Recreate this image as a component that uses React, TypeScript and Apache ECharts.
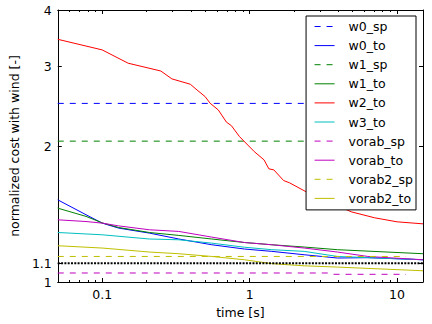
import React, { useEffect, useRef } from "react";
import * as echarts from "echarts";

const FONT = "DejaVu Sans";
const X_MIN = 0.05;
const X_MAX = 15;
const Y_MIN = 1;
const Y_MAX = 4;

const xMajorTicks = [0.1, 1, 10];
const xMinorTicks = [
  0.05, 0.06, 0.07, 0.08, 0.09,
  0.2, 0.3, 0.4, 0.5, 0.6, 0.7, 0.8, 0.9,
  2, 3, 4, 5, 6, 7, 8, 9,
];
const yTicks = [1, 1.1, 2, 3, 4];

// w0_sp (blue dashed)
const w0_sp_t = [0.05, 11.5];
const w0_sp_v = [2.485, 2.485];
// w0_to (blue solid)
const w0_to_t = [0.05, 0.0777, 0.1, 0.1295, 0.209, 0.331, 0.554, 0.922, 1.415, 2.345, 3.945, 6.34, 15];
const w0_to_v = [1.52, 1.409, 1.35, 1.316, 1.283, 1.245, 1.209, 1.183, 1.169, 1.149, 1.13, 1.132, 1.12];
// w1_sp (green dashed)
const w1_sp_t = [0.05, 11.5];
const w1_sp_v = [2.05, 2.05];
// w1_to (green solid)
const w1_to_t = [0.05, 0.0777, 0.1, 0.1295, 0.209, 0.331, 0.554, 0.922, 1.415, 2.345, 3.945, 15];
const w1_to_v = [1.457, 1.397, 1.352, 1.32, 1.287, 1.268, 1.245, 1.223, 1.209, 1.195, 1.179, 1.155];
// w2_to (red solid)
const w2_to_t = [0.05, 0.1, 0.15, 0.25, 0.297, 0.396, 0.44, 0.499, 0.54, 0.613, 0.697, 0.752, 0.854, 1.075, 1.252, 1.352, 1.459, 1.701, 1.864, 2.417, 4.887, 7.056, 10, 15];
const w2_to_v = [3.445, 3.264, 3.05, 2.931, 2.816, 2.74, 2.661, 2.573, 2.487, 2.404, 2.258, 2.219, 2.098, 1.944, 1.864, 1.78, 1.771, 1.677, 1.658, 1.584, 1.43, 1.387, 1.359, 1.345];
// w3_to (cyan solid)
const w3_to_t = [0.05, 0.1, 0.209, 0.331, 0.554, 0.922, 1.415, 2.345, 3.945, 15];
const w3_to_v = [1.287, 1.272, 1.245, 1.24, 1.219, 1.194, 1.179, 1.169, 1.139, 1.12];
// vorab_sp (magenta dashed)
const vorab_sp_t = [0.05, 3.4, 3.6, 11.5];
const vorab_sp_v = [1.047, 1.047, 1.04, 1.04];
// vorab_to (magenta solid)
const vorab_to_t = [0.05, 0.0777, 0.1, 0.1295, 0.209, 0.331, 0.554, 0.922, 1.415, 2.345, 3.945, 6.34, 15];
const vorab_to_v = [1.373, 1.361, 1.35, 1.331, 1.305, 1.294, 1.257, 1.223, 1.209, 1.189, 1.165, 1.139, 1.12];
// vorab2_sp (yellow dashed)
const vorab2_sp_t = [0.05, 11.5];
const vorab2_sp_v = [1.139, 1.139];
// vorab2_to (yellow solid)
const vorab2_to_t = [0.05, 0.1, 0.185, 0.209, 0.331, 0.554, 0.922, 1.415, 2.345, 3.945, 15];
const vorab2_to_v = [1.203, 1.189, 1.169, 1.165, 1.155, 1.139, 1.12, 1.098, 1.086, 1.079, 1.059];
// reference level (black dotted)
const ref_t = [0.05, 15];
const ref_v = [1.1, 1.1];

const seriesDefs = [
  { name: "w0_sp", t: w0_sp_t, v: w0_sp_v, color: "#0000ff", dash: true },
  { name: "w0_to", t: w0_to_t, v: w0_to_v, color: "#0000ff", dash: false },
  { name: "w1_sp", t: w1_sp_t, v: w1_sp_v, color: "#008000", dash: true },
  { name: "w1_to", t: w1_to_t, v: w1_to_v, color: "#008000", dash: false },
  { name: "w2_to", t: w2_to_t, v: w2_to_v, color: "#ff0000", dash: false },
  { name: "w3_to", t: w3_to_t, v: w3_to_v, color: "#00bfbf", dash: false },
  { name: "vorab_sp", t: vorab_sp_t, v: vorab_sp_v, color: "#bf00bf", dash: true },
  { name: "vorab_to", t: vorab_to_t, v: vorab_to_v, color: "#bf00bf", dash: false },
  { name: "vorab2_sp", t: vorab2_sp_t, v: vorab2_sp_v, color: "#bfbf00", dash: true },
  { name: "vorab2_to", t: vorab2_to_t, v: vorab2_to_v, color: "#bfbf00", dash: false },
];

const fmt = (v: number) => String(Number(Number(v).toPrecision(3)));

export default function App() {
  const ref = useRef<HTMLDivElement>(null);
  useEffect(() => {
    if (!ref.current) return;
    const chart = echarts.init(ref.current, null, { renderer: "svg" });
    const textBase = { fontFamily: FONT, fontSize: 12.5, color: "#000" };
    const xBase = (position: string, ticks: number[], len: number, showLine: boolean) => ({
      type: "log",
      logBase: 10,
      min: X_MIN,
      max: X_MAX,
      position,
      axisLine: { show: showLine, onZero: false, lineStyle: { color: "#000", width: 1 } },
      splitLine: { show: false },
      minorTick: { show: false },
      axisTick: { show: true, inside: true, length: len, customValues: ticks, lineStyle: { color: "#000", width: 1 } },
      axisLabel: { show: false },
    });
    const yBase = (position: string) => ({
      type: "log",
      logBase: 10,
      min: Y_MIN,
      max: Y_MAX,
      position,
      axisLine: { show: true, onZero: false, lineStyle: { color: "#000", width: 1 } },
      splitLine: { show: false },
      axisTick: { show: true, inside: true, length: 4, customValues: yTicks, lineStyle: { color: "#000", width: 1 } },
      axisLabel: { show: false },
    });
    const series: any[] = seriesDefs.map((s) => ({
      name: s.name,
      type: "line",
      symbol: "none",
      showSymbol: false,
      silent: true,
      xAxisIndex: 0,
      yAxisIndex: 0,
      data: s.t.map((t, i) => [t, s.v[i]]),
      itemStyle: { color: s.color },
      lineStyle: { color: s.color, width: 1, type: s.dash ? [6, 6] : "solid" },
    }));
    series.push({
      name: "ref",
      type: "line",
      symbol: "none",
      showSymbol: false,
      silent: true,
      xAxisIndex: 0,
      yAxisIndex: 0,
      data: ref_t.map((t, i) => [t, ref_v[i]]),
      itemStyle: { color: "#000" },
      lineStyle: { color: "#000", width: 2, type: [2, 1.3] },
    });
    chart.setOption({
      animation: false,
      backgroundColor: "#fff",
      textStyle: { fontFamily: FONT },
      grid: { left: 50, right: 9, top: 10, bottom: 42, containLabel: false },
      legend: {
        data: seriesDefs.map((s) => s.name),
        orient: "vertical",
        right: 16,
        top: 16,
        itemWidth: 20,
        itemHeight: 14,
        itemGap: 6.1,
        padding: [4, 3, 5, 8],
        borderColor: "#000",
        borderWidth: 1,
        borderRadius: 0,
        backgroundColor: "#fff",
        selectedMode: false,
        itemStyle: { opacity: 0 },
        lineStyle: { width: 1 },
        textStyle: { ...textBase, padding: [0, 0, 0, 9] },
      },
      xAxis: [
        {
          ...xBase("bottom", xMajorTicks, 4, true),
          axisLabel: { show: true, customValues: xMajorTicks, formatter: (v: number) => fmt(v), margin: 6, ...textBase },
          name: "time [s]",
          nameLocation: "middle",
          nameGap: 23,
          nameTextStyle: textBase,
        },
        xBase("bottom", xMinorTicks, 2, false),
        xBase("top", xMajorTicks, 4, true),
        xBase("top", xMinorTicks, 2, false),
      ],
      yAxis: [
        {
          ...yBase("left"),
          axisLabel: { show: true, customValues: yTicks, formatter: (v: number) => fmt(v), margin: 6, ...textBase },
          name: "normalized cost with wind [-]",
          nameLocation: "middle",
          nameGap: 27,
          nameTextStyle: textBase,
        },
        yBase("right"),
      ],
      series,
    });
    return () => chart.dispose();
  }, []);
  return (
    <div
      ref={ref}
      style={{ position: "absolute", left: 0, top: 0, width: 432, height: 324 }}
    />
  );
}
